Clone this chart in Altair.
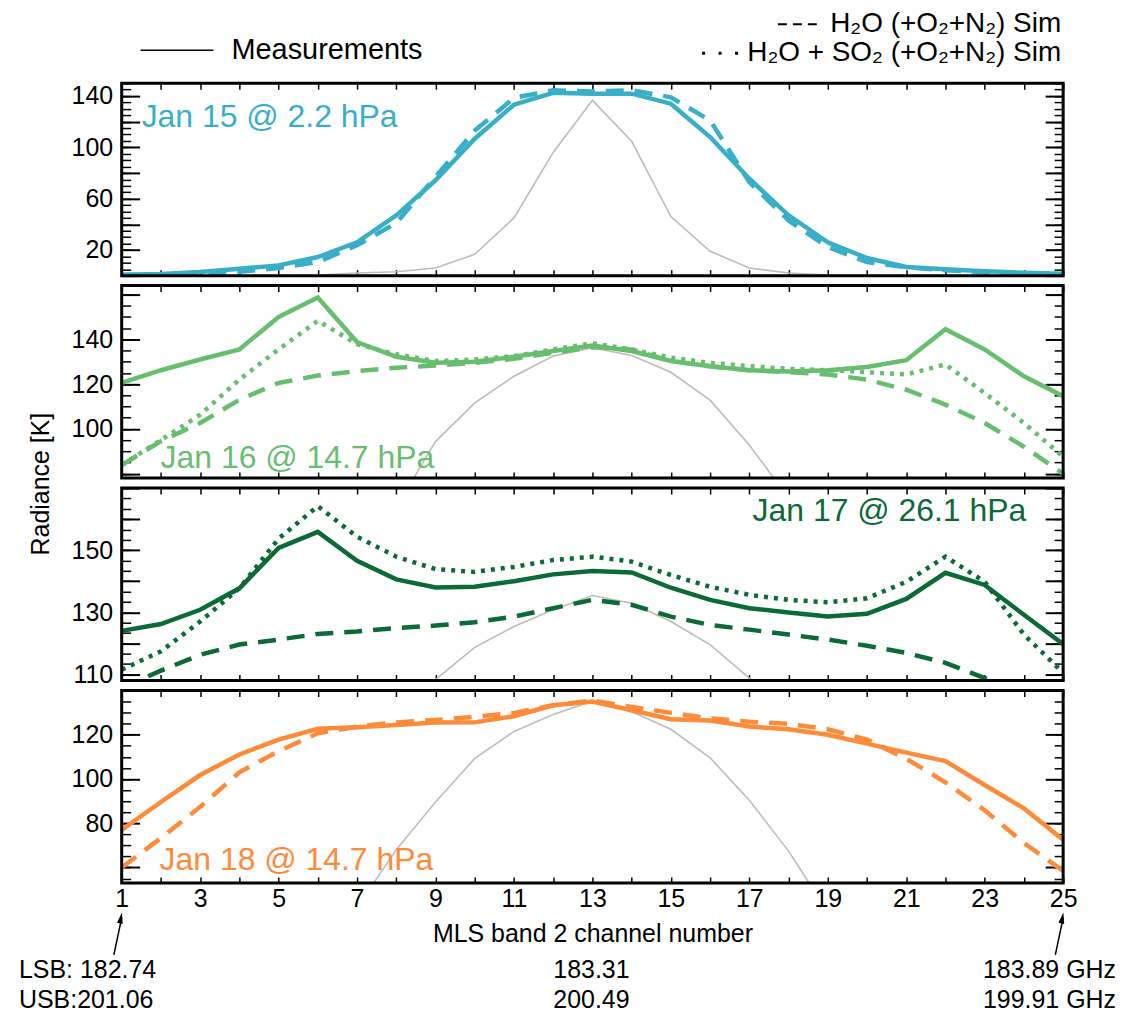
import json
import altair as alt
import pandas as pd

# ---------------- data ----------------
CHANNELS = list(range(1, 26))

# Jan 15 @ 2.2 hPa
jan15_meas = [0.7, 1.3, 2.8, 5.4, 8.0, 14.5, 26.0, 47.0, 74.3, 106.7, 133.2, 142.5, 141.8,
              141.8, 134.0, 108.0, 75.5, 47.0, 26.0, 13.7, 6.7, 5.0, 3.4, 2.3, 1.5]
jan15_h2o = [0.5, 1.0, 1.5, 3.0, 6.0, 10.6, 23.6, 41.0, 77.0, 113.0, 138.5, 144.5, 143.5,
             144.5, 139.0, 121.0, 73.0, 43.0, 22.3, 10.6, 6.5, 4.2, 2.6, 1.6, 1.0]
jan15_ref = [None] * 5 + [0.5, 2.0, 3.0, 6.0, 16.6, 45.0, 96.0, 136.6, 104.7, 46.0, 19.0,
                          6.0, 2.0, 0.5, 0.3] + [None] * 5

# Jan 16 @ 14.7 hPa
jan16_meas = [120.5, 126.2, 131.0, 135.5, 150.0, 158.7, 138.8, 132.2, 129.5, 130.0, 132.2,
              134.8, 137.2, 134.8, 130.3, 128.0, 126.2, 125.6, 126.2, 127.6, 130.7, 144.5,
              135.5, 123.5, 114.6]
jan16_h2o = [83.8, 94.5, 102.6, 113.0, 120.5, 123.8, 125.8, 127.3, 128.3, 129.5, 131.3, 134.0,
             136.5, 135.5, 130.3, 128.0, 126.2, 125.3, 124.3, 122.0, 117.5, 110.8, 102.6,
             92.0, 80.0]
jan16_so2 = [83.8, 95.0, 106.3, 122.0, 135.5, 148.3, 137.8, 133.3, 130.3, 131.0, 132.5, 135.5,
             138.2, 135.5, 131.8, 129.5, 128.0, 126.8, 126.2, 125.3, 124.3, 128.8, 116.0,
             102.6, 87.6]
jan16_ref = [None] * 7 + [65.0, 94.3, 111.6, 123.5, 132.5, 136.3, 132.8, 125.3, 112.8, 92.8,
                          69.0] + [None] * 7

# Jan 17 @ 26.1 hPa
jan17_meas = [124.0, 126.2, 130.8, 137.7, 150.7, 155.9, 146.6, 140.6, 138.0, 138.2, 140.0,
              142.2, 143.3, 142.8, 137.9, 134.0, 131.3, 129.9, 128.6, 129.5, 134.3, 142.7,
              138.8, 129.2, 119.7]
jan17_h2o = [105.6, 111.2, 116.3, 119.6, 121.2, 123.0, 123.8, 124.9, 125.7, 126.8, 128.6,
             131.3, 134.0, 132.4, 128.6, 125.9, 124.4, 122.8, 121.2, 119.2, 116.9, 113.7,
             108.8, 103.6, 100.0]
jan17_so2 = [111.5, 117.4, 127.0, 137.7, 153.7, 164.2, 154.3, 147.9, 143.9, 143.0, 144.6,
             146.8, 147.9, 146.3, 142.0, 138.2, 135.6, 134.0, 133.2, 134.5, 139.8, 147.9,
             139.8, 122.8, 110.5]
jan17_ref = [None] * 7 + [95.0, 108.3, 118.7, 125.4, 130.8, 135.4, 132.9, 127.0, 119.6, 108.8,
                          96.0] + [None] * 7

# Jan 18 @ 14.7 hPa
jan18_meas = [77.0, 89.6, 101.8, 111.1, 117.8, 122.7, 123.4, 124.4, 125.5, 125.6, 128.4,
              133.3, 135.0, 131.1, 127.0, 126.4, 123.7, 122.5, 120.0, 116.0, 111.9, 108.1,
              97.3, 86.7, 72.6]
jan18_h2o = [60.0, 73.3, 87.4, 103.0, 112.6, 120.7, 123.7, 125.6, 126.7, 128.1, 129.9, 133.3,
             135.5, 132.6, 129.9, 127.4, 125.9, 124.9, 122.5, 117.8, 109.2, 98.5, 85.9,
             71.1, 58.5]
jan18_ref = [None] * 6 + [42.0, 68.0, 89.6, 109.3, 121.5, 129.2, 135.2, 130.4, 122.5, 109.6,
                          90.4, 67.4, 40.0] + [None] * 6

# axis tick values per panel
p1_major, p1_labels, p1_minor = list(range(0, 151, 20)), [20, 60, 100, 140], list(range(0, 151, 5))
p2_major, p2_labels, p2_minor = [80, 100, 120, 140, 160], [100, 120, 140], list(range(80, 165, 5))
p3_major, p3_labels = list(range(110, 171, 10)), [110, 130, 150]
p3_minor = [round(110 + k * 10 / 3, 3) for k in range(19)]
p4_major, p4_labels, p4_minor = [60, 80, 100, 120, 140], [80, 100, 120], list(range(55, 141, 5))

# arrow anchors (channel numbers) under the x axis
arrow_tip = [1.0, 25.0]
arrow_tail = [0.8, 24.8]
arrow_head = [0.975, 24.975]

# ---------------- style ----------------
FONT = "Liberation Sans"
W, H = 944, 193
GRAY = "#BDBDBD"
C1, C2, C3, C4 = "#38AFC7", "#68BE6F", "#0B6A36", "#FD8B3A"
ONE = pd.DataFrame({"k": [0]})


def sdf(values):
    return pd.DataFrame({"ch": CHANNELS, "v": values}).dropna()


def text_layer(text, x, y, size, color="black", align="left", baseline="middle", angle=0):
    mk = dict(font=FONT, fontSize=size, color=color, align=align, baseline=baseline)
    if angle:
        mk["angle"] = angle
    return alt.Chart(pd.DataFrame({"t": [text]})).mark_text(**mk).encode(
        x=alt.value(x), y=alt.value(y), text="t:N")


def panel(meas, h2o, so2, ref, color, domain, major, labeled, minor, extra, bottom=False):
    xs = alt.Scale(domain=[1, 25], nice=False, zero=False)
    ys = alt.Scale(domain=domain, nice=False, zero=False)
    common = dict(domain=False, grid=False, tickColor="black", labelFont=FONT,
                  labelFontSize=25, labelColor="black", labelOverlap=False, labelFlush=False)
    xb_kw = dict(orient="bottom", values=CHANNELS, tickSize=6, offset=-6, tickWidth=1.5,
                 labels=bottom, labelExpr="datum.value % 2 == 1 ? datum.label : ''",
                 labelPadding=4, **common)
    if bottom:
        xb_kw.update(title="MLS band 2 channel number", titleFont=FONT, titleFontSize=25,
                     titleFontWeight="normal", titleColor="black", titlePadding=10)
    else:
        xb_kw.update(title=None)
    x_bottom = alt.Axis(**xb_kw)
    x_top = alt.Axis(orient="top", values=CHANNELS, tickSize=6, offset=-6, tickWidth=1.5,
                     labels=False, title=None, domain=False, grid=False, tickColor="black")
    lab_expr = "indexof(%s, datum.value) >= 0 ? datum.label : ''" % json.dumps(labeled)
    y_lmaj = alt.Axis(orient="left", values=major, tickSize=18, offset=-18, tickWidth=2,
                      labelExpr=lab_expr, labelPadding=9, title=None, **common)
    y_rmaj = alt.Axis(orient="right", values=major, tickSize=18, offset=-18, tickWidth=2,
                      labels=False, title=None, domain=False, grid=False, tickColor="black")
    y_lmin = alt.Axis(orient="left", values=minor, tickSize=9, offset=-9, tickWidth=1.5,
                      labels=False, title=None, domain=False, grid=False, tickColor="black")
    y_rmin = alt.Axis(orient="right", values=minor, tickSize=9, offset=-9, tickWidth=1.5,
                      labels=False, title=None, domain=False, grid=False, tickColor="black")

    def line(values, xa, ya, **mk):
        return alt.Chart(sdf(values)).mark_line(clip=True, **mk).encode(
            x=alt.X("ch:Q", scale=xs, axis=xa),
            y=alt.Y("v:Q", scale=ys, axis=ya),
        )

    layers = [
        line(ref, x_bottom, y_lmaj, color=GRAY, strokeWidth=1.6),
        line(meas, x_top, y_rmaj, color=color, strokeWidth=4.5),
        line(h2o, None, y_lmin, color=color, strokeWidth=4.5, strokeDash=[18, 11]),
    ]
    if so2 is not None:
        layers.append(line(so2, None, y_rmin, color=color, strokeWidth=4.5, strokeDash=[4, 6]))
    else:
        layers.append(line(meas, None, y_rmin, color=color, opacity=0))
    # frame around the plot area
    layers.append(alt.Chart(ONE).mark_rect(fill=None, stroke="black", strokeWidth=3).encode(
        x=alt.value(0), x2=alt.value(W), y=alt.value(0), y2=alt.value(H)))
    layers += extra
    return alt.layer(*layers).resolve_axis(x="independent", y="independent").properties(
        width=W, height=H)


# legend (drawn above panel 1)
legend = [
    alt.Chart(ONE).mark_rule(color="black", strokeWidth=1.5).encode(
        x=alt.value(19), x2=alt.value(92), y=alt.value(-33)),
    text_layer("Measurements", 110, -33, 29),
    alt.Chart(ONE).mark_rule(color="black", strokeWidth=2, strokeDash=[9, 6]).encode(
        x=alt.value(658), x2=alt.value(697), y=alt.value(-59)),
    text_layer("H\u2082O (+O\u2082+N\u2082) Sim", 942, -59, 28, align="right"),
    alt.Chart(ONE).mark_rule(color="black", strokeWidth=3, strokeDash=[3, 13.5]).encode(
        x=alt.value(582), x2=alt.value(618), y=alt.value(-30)),
    text_layer("H\u2082O + SO\u2082 (+O\u2082+N\u2082) Sim", 942, -30, 28, align="right"),
]

p1 = panel(jan15_meas, jan15_h2o, None, jan15_ref, C1, [0, 150], p1_major, p1_labels, p1_minor,
           [text_layer("Jan 15 @ 2.2 hPa", 20, 44, 32, C1, baseline="alphabetic")] + legend)

p2 = panel(jan16_meas, jan16_h2o, jan16_so2, jan16_ref, C2, [78, 164], p2_major, p2_labels,
           p2_minor,
           [text_layer("Jan 16 @ 14.7 hPa", 39, 183, 32, C2, baseline="alphabetic"),
            text_layer("Radiance [K]", -81, 199, 25, angle=270, align="center")])

p3 = panel(jan17_meas, jan17_h2o, jan17_so2, jan17_ref, C3, [108, 170], p3_major, p3_labels,
           p3_minor,
           [text_layer("Jan 17 @ 26.1 hPa", 907, 33, 32, C3, align="right",
                       baseline="alphabetic")])

arrows_df = pd.DataFrame({"tip": arrow_tip, "tail": arrow_tail, "head": arrow_head})
xs_arrow = alt.Scale(domain=[1, 25], nice=False, zero=False)
arrow_lines = alt.Chart(arrows_df).mark_rule(color="black", strokeWidth=1.5).encode(
    x=alt.X("tip:Q", scale=xs_arrow, axis=None), x2="tail:Q",
    y=alt.value(228), y2=alt.value(265))
arrow_heads = alt.Chart(arrows_df).mark_point(
    shape="M0,-1L0.45,0.7L-0.45,0.7Z", filled=True, color="black", opacity=1, size=170,
    angle=11).encode(x=alt.X("head:Q", scale=xs_arrow, axis=None), y=alt.value(229))

bottom_texts = [
    text_layer("LSB: 182.74", -103, 280, 25),
    text_layer("USB:201.06", -103, 310, 25),
    text_layer("183.31", 471, 280, 25, align="center"),
    text_layer("200.49", 471, 310, 25, align="center"),
    text_layer("183.89 GHz", 997, 280, 25, align="right"),
    text_layer("199.91 GHz", 997, 310, 25, align="right"),
]

p4 = panel(jan18_meas, jan18_h2o, None, jan18_ref, C4, [53, 140], p4_major, p4_labels, p4_minor,
           [text_layer("Jan 18 @ 14.7 hPa", 38, 180, 32, C4, baseline="alphabetic"),
            arrow_lines, arrow_heads] + bottom_texts,
           bottom=True)

chart = alt.vconcat(p1, p2, p3, p4, spacing=10, bounds="flush").properties(
    padding={"left": 10, "top": 0, "right": 0, "bottom": 0}
).configure_view(strokeWidth=0).configure(font=FONT)

chart.save("out.html", embed_options={"renderer": "svg", "actions": False})
